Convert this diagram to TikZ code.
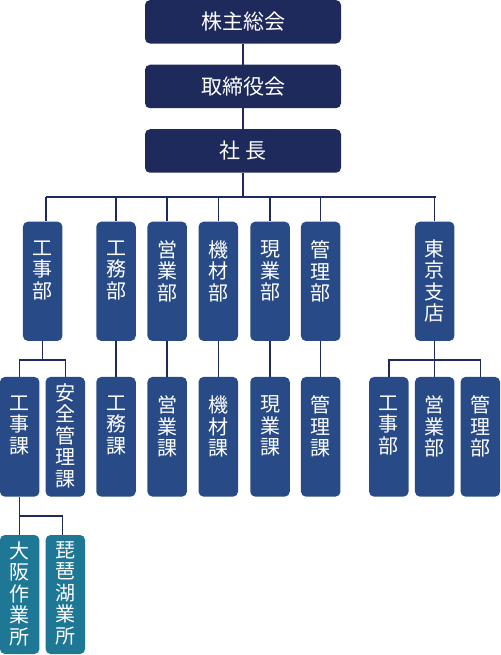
\documentclass[tikz,border=0pt]{standalone}
\usepackage{fontspec}
\setmainfont{Noto Sans CJK JP}
\definecolor{navy}{HTML}{1E2A5C}
\definecolor{deptblue}{HTML}{284B87}
\definecolor{tealbox}{HTML}{1F7796}
\newcommand\vstack[3]{\parbox[c][#1][t]{38pt}{\centering\fontsize{20}{21.5}\selectfont\vspace*{#2}#3\par}}
\tikzset{
  box/.style={rounded corners=5pt, inner sep=0pt, text=white, anchor=center},
  topbox/.style={box, fill=navy, minimum width=196pt, minimum height=43.5pt, font=\fontsize{21}{21}\selectfont},
  deptbox/.style={box, fill=deptblue, minimum width=39.5pt},
  sitebox/.style={box, fill=tealbox, minimum width=39.5pt},
  conn/.style={draw=navy, line width=1.5pt},
}
\begin{document}
\begin{tikzpicture}[x=1pt,y=-1pt]
\useasboundingbox (0,0) rectangle (500,655);
% top
\node[topbox] (gm) at (243,21.8) {株主総会};
\node[topbox] (bd) at (243,86.5) {取締役会};
\node[topbox] (ceo) at (243,151) {社\hspace{5pt}長};
% departments
\node[deptbox] (d1) at (42.7,281.3) {\vstack{119.3pt}{19pt}{工\\事\\部}};
\node[deptbox] (d2) at (116,281.3) {\vstack{119.3pt}{19pt}{工\\務\\部}};
\node[deptbox] (d3) at (167.2,281.3) {\vstack{119.3pt}{19pt}{営\\業\\部}};
\node[deptbox] (d4) at (218.3,281.3) {\vstack{119.3pt}{19pt}{機\\材\\部}};
\node[deptbox] (d5) at (270,281.3) {\vstack{119.3pt}{19pt}{現\\業\\部}};
\node[deptbox] (d6) at (320.7,281.3) {\vstack{119.3pt}{19pt}{管\\理\\部}};
\node[deptbox] (d7) at (434.7,281.3) {\vstack{119.3pt}{18pt}{東\\京\\支\\店}};
% sections
\node[deptbox] (s1) at (19.7,436.8) {\vstack{119.7pt}{19pt}{工\\事\\課}};
\node[deptbox] (s2) at (65.3,436.8) {\vstack{119.7pt}{6.5pt}{安\\全\\管\\理\\課}};
\node[deptbox] (s3) at (116,436.8) {\vstack{119.7pt}{19pt}{工\\務\\課}};
\node[deptbox] (s4) at (167.2,436.8) {\vstack{119.7pt}{19pt}{営\\業\\課}};
\node[deptbox] (s5) at (218.3,436.8) {\vstack{119.7pt}{19pt}{機\\材\\課}};
\node[deptbox] (s6) at (270,436.8) {\vstack{119.7pt}{19pt}{現\\業\\課}};
\node[deptbox] (s7) at (320.7,436.8) {\vstack{119.7pt}{19pt}{管\\理\\課}};
\node[deptbox] (t1) at (388.8,436.8) {\vstack{119.7pt}{19pt}{工\\事\\部}};
\node[deptbox] (t2) at (434.7,436.8) {\vstack{119.7pt}{19pt}{営\\業\\部}};
\node[deptbox] (t3) at (480.3,436.8) {\vstack{119.7pt}{19pt}{管\\理\\部}};
% sites
\node[sitebox] (o1) at (19.7,594.5) {\vstack{119pt}{6.5pt}{大\\阪\\作\\業\\所}};
\node[sitebox] (o2) at (65.3,594.5) {\vstack{119pt}{6.5pt}{琵\\琶\\湖\\業\\所}};
% connectors
\draw[conn] (gm) -- (bd);
\draw[conn] (bd) -- (ceo);
\coordinate (bus) at (243,197);
\coordinate (b1) at (46,197);
\coordinate (b7) at (435.7,197);
\draw[conn] (ceo.south) -- (bus);
\draw[conn] (b1) -- (b7);
\draw[conn] (b1) -- (b1 |- d1.north);
\foreach \d in {d2,d3,d4,d5,d6,d7} {\draw[conn] (\d.north |- bus) -- (\d.north);}
\foreach \a/\b in {d2/s3,d3/s4,d4/s5,d5/s6,d6/s7} {\draw[conn] (\a) -- (\b);}
\path (d1.south) ++(0,19) coordinate (j1);
\draw[conn] (d1.south) -- (j1);
\draw[conn] (s1.north) |- (j1) -| (s2.north);
\path (d7.south) ++(0,19) coordinate (j7);
\draw[conn] (d7.south) -- (j7);
\draw[conn] (t1.north) |- (j7) -| (t3.north);
\draw[conn] (j7) -- (t2.north);
\path (s1.south) ++(0,19.3) coordinate (j8);
\coordinate (o2top) at (62.7,535);
\draw[conn] (s1.south) -- (o1.north);
\draw[conn] (j8) -| (o2top);
\end{tikzpicture}
\end{document}
